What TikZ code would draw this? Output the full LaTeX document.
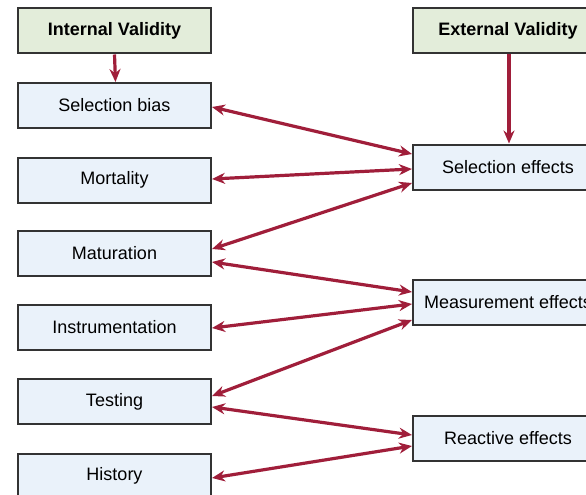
\documentclass[tikz,border=0pt]{standalone}
\usepackage{fontspec}
\setmainfont{Liberation Sans}
\usetikzlibrary{arrows.meta}
\definecolor{hdrgreen}{HTML}{E3EDDA}
\definecolor{cellblue}{HTML}{EAF2FA}
\definecolor{linkred}{HTML}{A01E3A}
\definecolor{edgegray}{HTML}{333333}
\begin{document}
\begin{tikzpicture}[x=1pt,y=-1pt,
    box/.style={draw=edgegray, line width=2pt, minimum height=45pt, inner sep=0pt, font=\fontsize{18}{20}\selectfont},
    hdr/.style={box, fill=hdrgreen, font=\fontsize{18}{20}\selectfont\bfseries},
    ivbox/.style={box, fill=cellblue, minimum width=193pt},
    evbox/.style={box, fill=cellblue, minimum width=190pt},
    link/.style={draw=linkred, line width=3.2pt, {Stealth[length=13pt,width=11pt]}-{Stealth[length=13pt,width=11pt]}},
    down/.style={draw=linkred, line width=3.2pt, -{Stealth[length=13pt,width=11pt]}}]
    \useasboundingbox (0,0) rectangle (586,495);
    \clip (0,0) rectangle (586,495);

    % Headers
    \node[hdr, minimum width=193pt] (int) at (114.5,31) {Internal Validity};
    \node[hdr, minimum width=190pt] (ext) at (508,31) {External Validity};

    % Internal threats
    \foreach \n/\y/\txt in {
        selbias/105.5/Selection bias,
        mort/180/Mortality,
        mat/253.5/Maturation,
        instr/327.5/Instrumentation,
        test/401.5/Testing,
        hist/476/History} {
        \node[ivbox] (\n) at (114.5,\y) {\txt};
    }

    % External threats
    \foreach \n/\y/\txt in {
        seleff/167/Selection effects,
        meas/302.5/Measurement effects,
        react/438/Reactive effects} {
        \node[evbox] (\n) at (508,\y) {\txt};
    }

    \draw[down] (int.south) -- ([xshift=1pt]selbias.north);
    \draw[down] ([xshift=1pt]ext.south) -- ([xshift=1pt]seleff.north);

    % Links
    \foreach \a/\da/\b/\db in {
        selbias/-1.5/seleff/13,
        mort/1/seleff/-2,
        mat/4.5/seleff/-16,
        mat/-8.5/meas/10.5,
        instr/-0.5/meas/-1.5,
        test/5.5/meas/-17.5,
        test/-5.5/react/3,
        hist/-2/react/-8} {
        \draw[link] ([yshift=\da pt]\a.east) -- ([yshift=\db pt]\b.west);
    }
\end{tikzpicture}
\end{document}
